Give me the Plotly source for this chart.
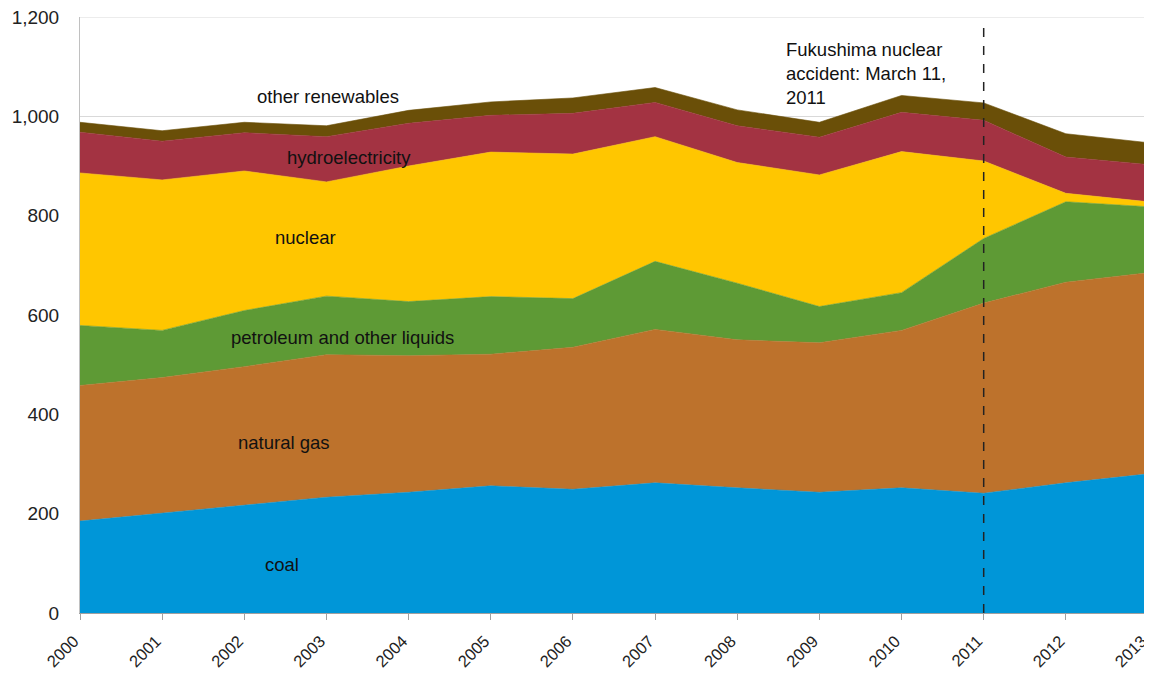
import plotly.graph_objects as go

years = list(range(2000, 2014))
coal = [185, 201, 217, 233, 243, 256, 249, 262, 252, 243, 252, 241, 262, 280]
natural_gas = [273, 273, 279, 287, 275, 265, 286, 309, 298, 301, 317, 383, 404, 405]
petroleum = [121, 95, 113, 118, 109, 116, 98, 137, 114, 73, 76, 130, 162, 133]
nuclear = [307, 303, 281, 230, 273, 291, 291, 251, 243, 265, 284, 156, 17, 10]
hydro = [82, 78, 77, 91, 86, 74, 82, 69, 74, 76, 79, 82, 73, 75]
other_renew = [20, 21, 21, 22, 26, 27, 31, 30, 32, 30, 34, 35, 47, 44]
y_ticks = [0, 200, 400, 600, 800, 1000, 1200]

series = [
    ("coal", coal, "#0096D8"),
    ("natural gas", natural_gas, "#BD722C"),
    ("petroleum and other liquids", petroleum, "#5E9A35"),
    ("nuclear", nuclear, "#FFC600"),
    ("hydroelectricity", hydro, "#A33342"),
    ("other renewables", other_renew, "#6A4F08"),
]

FONT = "Liberation Sans, Arial, sans-serif"

fig = go.Figure()
for name, vals, col in series:
    fig.add_trace(go.Scatter(
        x=years, y=vals, name=name, stackgroup="one", mode="lines",
        line=dict(width=0.6, color=col), fillcolor=col,
    ))

labels = [
    ("other renewables", 2003.02, 1039),
    ("hydroelectricity", 2003.27, 918),
    ("nuclear", 2002.75, 757),
    ("petroleum and other liquids", 2003.19, 554),
    ("natural gas", 2002.48, 344),
    ("coal", 2002.46, 97),
]
for txt, lx, ly in labels:
    fig.add_annotation(x=lx, y=ly, text=txt, showarrow=False,
                       font=dict(family=FONT, size=18.5, color="#111111"))

fig.add_annotation(x=2008.57, y=1160, xanchor="left", yanchor="top", align="left",
                   text="Fukushima nuclear<br>accident: March 11,<br>2011", showarrow=False,
                   font=dict(family=FONT, size=18.5, color="#111111"))

# top gridline at 1,200 (plotly omits the gridline at the range edge)
fig.add_shape(type="line", x0=0, x1=1, xref="paper", y0=1200, y1=1200, yref="y",
              line=dict(color="#d9d9d9", width=1), layer="below")

fig.add_shape(type="line", x0=2011, x1=2011, y0=0, y1=1184, xref="x", yref="y",
              line=dict(color="#222222", width=1.5, dash="dash"))

fig.update_layout(
    width=1144, height=668,
    margin=dict(l=72, r=4, t=9, b=63),
    plot_bgcolor="white", paper_bgcolor="white",
    showlegend=False,
    font=dict(family=FONT, size=16, color="#222222"),
)
fig.update_xaxes(range=[2000, 2013], tickmode="array", tickvals=years,
                 ticktext=[str(y) for y in years], tickangle=-45,
                 showgrid=False, showline=True, linecolor="#a0a0a0", linewidth=1,
                 ticks="outside", ticklen=6, tickcolor="#a0a0a0",
                 automargin=False, ticklabeloverflow="allow",
                 ticklabelshift=-6, ticklabelstandoff=5,
                 tickfont=dict(family=FONT, size=16.5, color="#222222"))
fig.update_yaxes(range=[0, 1200], tickmode="array", tickvals=y_ticks,
                 ticktext=[f"{v:,}" for v in y_ticks],
                 showgrid=True, gridcolor="#d9d9d9", gridwidth=1,
                 showline=True, linecolor="#c0c0c0", linewidth=1,
                 ticks="", ticklabelstandoff=16, automargin=False,
                 ticklabeloverflow="allow",
                 tickfont=dict(family=FONT, size=19, color="#222222"))

fig.write_html("out.html")
